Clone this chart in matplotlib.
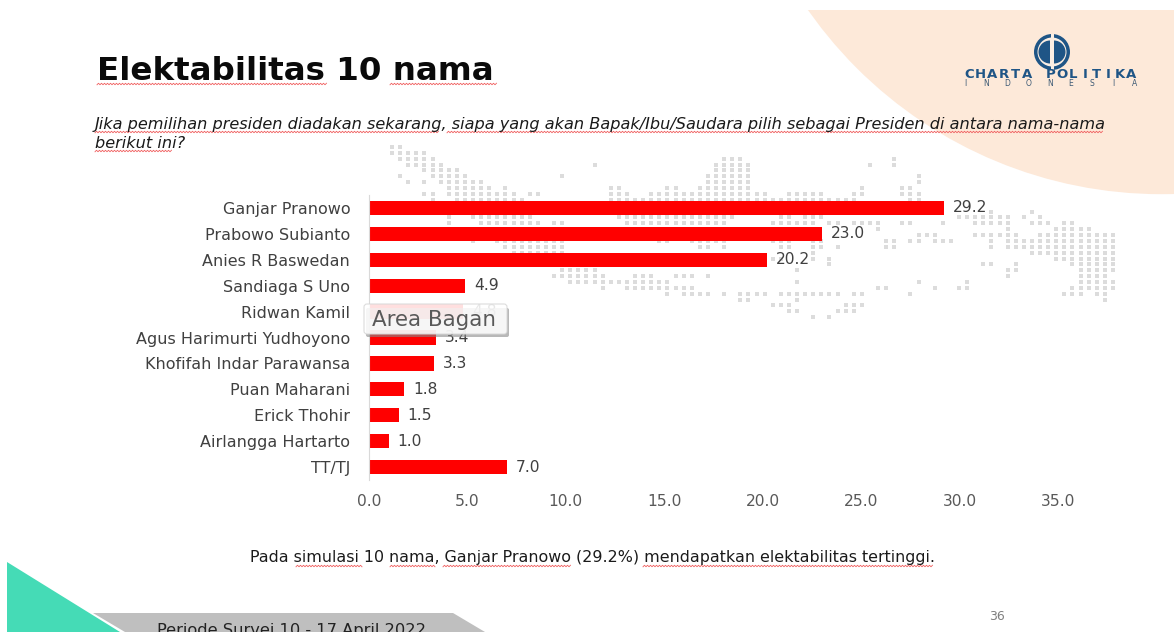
import numpy as np
import matplotlib
matplotlib.use("Agg")
import matplotlib.pyplot as plt
from matplotlib.patches import Circle, Rectangle, Polygon, FancyBboxPatch, Wedge

# ---- chart data ----
names = ["Ganjar Pranowo", "Prabowo Subianto", "Anies R Baswedan", "Sandiaga S Uno",
         "Ridwan Kamil", "Agus Harimurti Yudhoyono", "Khofifah Indar Parawansa",
         "Puan Maharani", "Erick Thohir", "Airlangga Hartarto", "TT/TJ"]
values = [29.2, 23.0, 20.2, 4.9, 4.8, 3.4, 3.3, 1.8, 1.5, 1.0, 7.0]
xticks = [0, 5, 10, 15, 20, 25, 30, 35]

# decorative dotted world map: row -> column spans
map_rows = {
    0: [(0, 1)], 1: [(0, 4)], 2: [(1, 5), (41, 43), (62, 62)],
    3: [(2, 6), (25, 25), (40, 44), (59, 59), (62, 62)], 4: [(4, 8), (40, 44)],
    5: [(1, 1), (5, 9), (21, 21), (39, 44), (65, 65)],
    6: [(2, 2), (4, 4), (6, 11), (39, 44), (65, 65)],
    7: [(7, 12), (14, 14), (27, 28), (34, 35), (38, 44), (58, 58), (63, 64)],
    8: [(4, 5), (7, 15), (17, 18), (27, 29), (32, 46), (49, 53), (57, 58), (63, 65)],
    9: [(5, 5), (8, 16), (27, 57), (64, 65)],
    11: [(74, 74), (79, 79)],
    12: [(7, 7), (10, 17), (28, 42), (48, 49), (51, 53), (70, 76), (78, 78), (80, 80)],
    13: [(7, 7), (11, 18), (20, 21), (29, 41), (47, 52), (54, 55), (57, 60), (63, 64),
         (68, 68), (72, 76), (79, 81), (83, 84)],
    14: [(60, 60), (76, 76), (82, 86)],
    15: [(65, 67), (72, 77), (80, 89)],
    16: [(10, 10), (13, 21), (33, 34), (37, 41), (47, 49), (52, 53), (61, 62), (64, 65),
         (67, 69), (74, 74), (76, 89)],
    17: [(14, 21), (38, 39), (41, 41), (48, 49), (52, 53), (55, 55), (61, 62), (74, 74), (76, 89)],
    18: [(15, 21), (52, 52), (79, 89)],
    19: [(47, 48), (52, 52), (54, 54), (82, 89)],
    20: [(14, 14), (18, 19), (54, 54), (73, 74), (77, 77), (84, 89)],
    21: [(21, 25), (50, 50), (76, 77), (85, 89)],
    22: [(20, 26), (30, 32), (35, 37), (39, 39), (76, 76), (85, 88)],
    23: [(22, 34), (50, 50), (65, 65), (71, 71), (85, 89)],
    24: [(26, 26), (29, 37), (60, 61), (67, 67), (70, 71), (84, 89)],
    25: [(34, 34), (36, 39), (41, 41), (43, 46), (48, 55), (57, 58), (64, 64), (83, 85), (87, 88)],
    26: [(43, 44), (50, 50), (88, 88)],
    27: [(47, 49), (56, 58)], 28: [(49, 50), (55, 57)], 29: [(52, 52), (54, 54)],
}

W, H = 1174, 632
fig = plt.figure(figsize=(W / 100, H / 100), dpi=100, facecolor="white")

def px_axes(z):
    a = fig.add_axes([0, 0, 1, 1], zorder=z)
    a.set_xlim(0, W); a.set_ylim(H, 0); a.axis("off")
    a.patch.set_alpha(0)
    return a

bg = px_axes(0)
top = px_axes(5)
FONT = "DejaVu Sans"

# peach circle
p = np.array([[808, 10], [940, 133], [1174, 194]], float)
A = np.c_[2 * p, np.ones(3)]
sol = np.linalg.solve(A, (p ** 2).sum(1))
cx, cy = sol[:2]; r = np.sqrt(sol[2] + cx ** 2 + cy ** 2)
c = Circle((cx, cy), r, fc="#fde9d9", ec="none")
bg.add_patch(c)
c.set_clip_path(Rectangle((0, 10), W, H, transform=bg.transData))

# map
xs, ys = [], []
for row, spans in map_rows.items():
    for a, b in spans:
        for col in range(a, b + 1):
            xs.append(392 + 8.1 * col); ys.append(147 + 5.87 * row)
bg.scatter(xs, ys, s=8, marker="s", c="#dcdcdc", linewidths=0)

# logo
bg.add_patch(Circle((1052, 52), 18, fc="#1f5586", ec="none"))
bg.add_patch(Circle((1052, 52), 14.5, fc="#fbeee3", ec="none"))
bg.add_patch(Wedge((1050, 52), 11.5, 90, 270, fc="#1f5586", ec="none"))
bg.add_patch(Wedge((1054, 52), 11.5, -90, 90, fc="#1f5586", ec="none"))
bg.add_patch(Rectangle((1050.5, 34), 3, 36, fc="#fbeee3", ec="none"))
for i, ch in enumerate("CHARTA POLITIKA"):
    bg.text(969 + 11.6 * i, 74, ch, fontsize=9.5, fontweight="bold", color="#1f5586",
            ha="center", va="center", family=FONT)
for i, ch in enumerate("INDONESIA"):
    bg.text(965 + 21.2 * i, 84, ch, fontsize=5.5, color="#3d5a75", ha="center", va="center", family=FONT)

# headings
bg.text(97, 80, "Elektabilitas 10 nama", fontsize=23.4, fontweight="bold", color="#0a0a0a",
        family=FONT, va="baseline")
bg.text(95, 129, "Jika pemilihan presiden diadakan sekarang, siapa yang akan Bapak/Ibu/Saudara pilih sebagai Presiden di antara nama-nama",
        fontsize=11.6, style="italic", color="#1a1a1a", family=FONT, va="baseline")
bg.text(95, 148, "berikut ini?", fontsize=11.6, style="italic", color="#1a1a1a", family=FONT, va="baseline")
bg.text(592, 562, "Pada simulasi 10 nama, Ganjar Pranowo (29.2%) mendapatkan elektabilitas tertinggi.",
        fontsize=11.4, color="#1a1a1a", family=FONT, ha="center", va="baseline")

# spell-check squiggles
def squiggle(x0, x1, y):
    x = np.arange(x0, x1 + 1, 1.5)
    bg.plot(x, y + 0.8 * (-1.0) ** np.arange(len(x)), color="#f06060", lw=0.6, solid_joinstyle="miter")
for a, b in [(97, 327), (390, 496)]:
    squiggle(a, b, 84)
for a, b in [(95, 439), (447, 1102)]:
    squiggle(a, b, 132)
squiggle(95, 172, 151)
for a, b in [(296, 362), (390, 435), (443, 570), (643, 932)]:
    squiggle(a, b, 566)

# footer shapes
bg.add_patch(Polygon([(7, 562), (120, 632), (7, 632)], fc="#45dbb6", ec="none"))
bg.add_patch(Polygon([(93, 613), (453, 613), (485, 632), (125, 632)], fc="#bfbfbf", ec="none"))
bg.text(157, 635, "Periode Survei 10 - 17 April 2022", fontsize=11.7, fontweight="normal",
        color="#222222", family=FONT, va="baseline", clip_on=True)
bg.text(997, 616, "36", fontsize=9, color="#7f7f7f", family=FONT, ha="center", va="center")

# chart
ax = fig.add_axes([369 / W, 1 - 480 / H, (1117 - 369) / W, (480 - 195) / H], zorder=1)
ax.patch.set_alpha(0)
bars = ax.barh(range(len(names)), values, height=0.55, color="#ff0000")
ax.set_xlim(0, 38)
ax.set_ylim(len(names) - 0.5, -0.5)
ax.set_yticks(range(len(names)), names)
ax.set_xticks(xticks, [f"{v:.1f}" for v in xticks])
ax.tick_params(axis="both", length=0)
ax.tick_params(axis="y", pad=13.5, labelsize=11.5, labelcolor="#404040")
ax.tick_params(axis="x", pad=10, labelsize=11.2, labelcolor="#595959")
for t in ax.get_xticklabels() + ax.get_yticklabels():
    t.set_family(FONT)
for s in ["top", "right", "bottom"]:
    ax.spines[s].set_visible(False)
ax.spines["left"].set_color("#d9d9d9")
ax.bar_label(bars, fmt="%.1f", padding=6.5, fontsize=11.2, color="#404040", family=FONT)

# tooltip
top.add_patch(FancyBboxPatch((366, 308), 143, 29, boxstyle="round,pad=0,rounding_size=2",
                             fc="#8a8a8a", ec="none", alpha=0.6))
top.add_patch(FancyBboxPatch((364, 304), 143, 30, boxstyle="round,pad=0,rounding_size=3",
                             fc="white", ec="#d8d8d8", lw=0.8, alpha=0.88))
top.text(372, 320, "Area Bagan", fontsize=15.4, color="#595959", family=FONT, va="center")

fig.savefig("out.png", dpi=100)
